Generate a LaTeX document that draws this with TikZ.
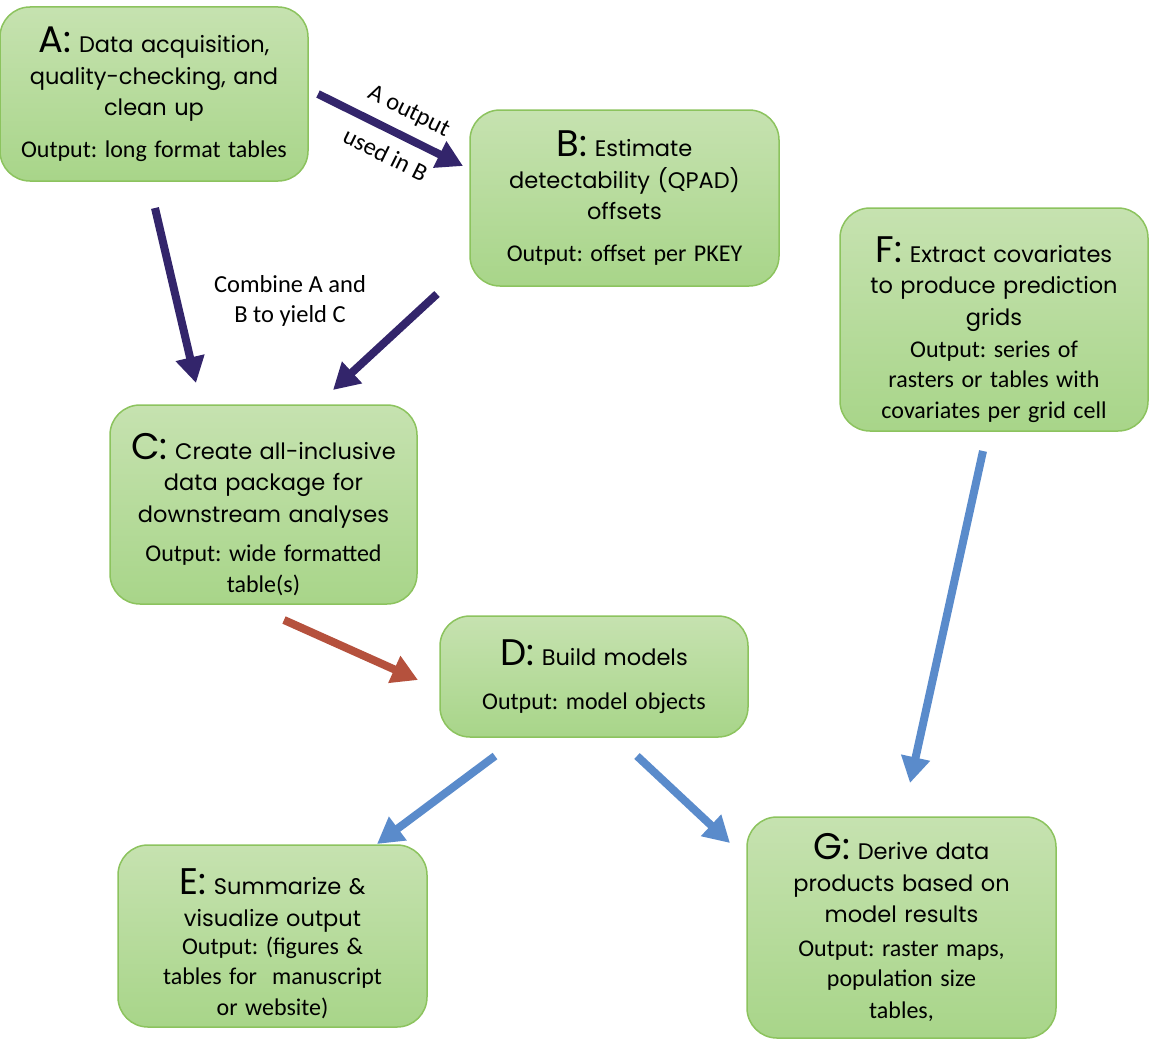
\documentclass[tikz,border=0pt]{standalone}
\usepackage{fontspec}
\setmainfont{Carlito}
\newfontfamily\tfont{Poppins}
\usetikzlibrary{arrows.meta}
\definecolor{boxtop}{HTML}{C6E2B0}
\definecolor{boxbot}{HTML}{A8D589}
\definecolor{boxline}{HTML}{8CC35E}
\definecolor{arrpurple}{HTML}{33256B}
\definecolor{arrred}{HTML}{B5513D}
\definecolor{arrblue}{HTML}{5A8BCB}
\newcommand\ttlfont{\frenchspacing\tfont\fontsize{22.5}{31.5}\selectfont}
\newcommand\stglet[1]{{\fontsize{37}{31.5}\selectfont #1:}}
\newcommand\outfont{\par\fontsize{24}{30}\selectfont\rmfamily}
\newcommand\topstrut[1]{\rule{0pt}{#1}}
\begin{document}
\begin{tikzpicture}[x=1pt,y=-1pt,
  stage/.style={draw=boxline, line width=1.5pt, rounded corners=30pt,
    top color=boxtop, bottom color=boxbot, inner sep=0pt,
    align=center, text width=#1, font=\ttlfont},
  stage/.default=304pt,
  flow/.style={line width=8pt, -{Triangle[length=26pt,width=28pt]}},
  lbl/.style={font=\frenchspacing\fontsize{24.5}{30}\selectfont, align=center, text=black}]
\useasboundingbox (0,0) rectangle (1155,1041);

\node[stage, minimum width=308pt, minimum height=174pt] (A) at (154,94)
  {\stglet{A} Data acquisition,\\quality-checking, and\\clean up\vspace{10pt}\outfont Output: long format tables};
\node[stage, minimum width=309pt, minimum height=176pt] (B) at (624.5,198)
  {\stglet{B} Estimate\\detectability (QPAD)\\offsets\vspace{10pt}\outfont Output: offset per PKEY};
\node[stage, minimum width=307pt, minimum height=199pt] (C) at (263.5,504.5)
  {\topstrut{46pt}\stglet{C} Create all-inclusive\\data package for\\downstream analyses\vspace{9pt}\outfont Output: wide formatted\\table(s)};
\node[stage, minimum width=308pt, minimum height=121pt] (D) at (594,676.5)
  {\stglet{D} Build models\vspace{12pt}\outfont Output: model objects};
\node[stage, minimum width=309pt, minimum height=182pt] (E) at (272.5,936)
  {\topstrut{42pt}\stglet{E} Summarize \&\\visualize output\vspace{-2pt}\outfont Output: (figures \&\\tables for\ \ manuscript\\or website)};
\node[stage, minimum width=308pt, minimum height=223pt] (F) at (994,319.5)
  {\topstrut{46pt}\stglet{F} Extract covariates\\to produce prediction\\grids\vspace{2pt}\outfont Output: series of\\rasters or tables with\\covariates per grid cell};
\node[stage, minimum width=309pt, minimum height=221pt] (G) at (901.5,927.5)
  {\stglet{G} Derive data\\products based on\\model results\vspace{4pt}\outfont Output: raster maps,\\population size\\tables,};

\coordinate (ab1) at (318,94);   \coordinate (ab2) at (463,166);
\coordinate (ac1) at (155,208);  \coordinate (ac2) at (196,383);
\coordinate (bc1) at (437,294);  \coordinate (bc2) at (333,390);
\coordinate (cd1) at (284,620);  \coordinate (cd2) at (418,680);
\coordinate (de1) at (495,756);  \coordinate (de2) at (377,844);
\coordinate (dg1) at (637,756);  \coordinate (dg2) at (730,843);
\coordinate (fg1) at (983,451);  \coordinate (fg2) at (910,783);

\draw[flow, arrpurple] (ab1) -- (ab2)
  node[lbl, pos=0.55, sloped, above=7pt] (l1) {A output}
  node[lbl, pos=0.54, sloped, below=8pt] (l2) {used in B};
\draw[flow, arrpurple] (ac1) -- (ac2);
\draw[flow, arrpurple] (bc1) -- (bc2);
\draw[flow, arrred] (cd1) -- (cd2);
\draw[flow, arrblue] (de1) -- (de2);
\draw[flow, arrblue] (dg1) -- (dg2);
\draw[flow, arrblue] (fg1) -- (fg2);

\node[lbl] (comb) at (290,301) {Combine A and\\B to yield C};
\end{tikzpicture}
\end{document}
